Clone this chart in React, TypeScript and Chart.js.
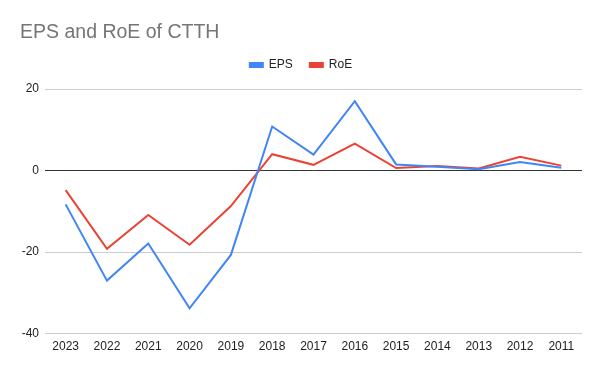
import React, { useEffect, useRef } from "react";
import { Chart, registerables } from "chart.js";

Chart.register(...registerables);

const years = ["2023","2022","2021","2020","2019","2018","2017","2016","2015","2014","2013","2012","2011"];
const epsValues = [-8.3, -27.0, -17.9, -33.8, -20.7, 10.8, 3.9, 17.0, 1.5, 0.9, 0.3, 2.1, 0.7];
const roeValues = [-4.8, -19.2, -10.9, -18.2, -8.7, 4.0, 1.4, 6.6, 0.6, 1.1, 0.5, 3.4, 1.2];
const yTicks = [-40, -20, 0, 20];

const FONT = "'Liberation Sans', Arial, sans-serif";

const legendSpacer = {
  id: "legendSpacer",
  beforeInit(chart: any) {
    const legend = chart.legend;
    if (!legend) return;
    const orig = legend.fit;
    legend.fit = function () {
      orig.call(this);
      this.height += 8;
    };
  },
};

export default function App() {
  const ref = useRef<HTMLCanvasElement | null>(null);
  useEffect(() => {
    document.body.style.margin = "0";
    const ctx = ref.current!;
    const chart = new Chart(ctx, {
      type: "line",
      data: {
        labels: years,
        datasets: [
          { label: "EPS", data: epsValues, borderColor: "#4285F4", backgroundColor: "#4285F4", borderWidth: 2, pointRadius: 0, tension: 0 },
          { label: "RoE", data: roeValues, borderColor: "#EA4335", backgroundColor: "#EA4335", borderWidth: 2, pointRadius: 0, tension: 0 },
        ],
      },
      options: {
        responsive: false,
        animation: false,
        layout: { padding: { top: 0, left: 20, right: 18, bottom: 11 } },
        plugins: {
          title: {
            display: true,
            text: "EPS and RoE of CTTH",
            align: "start",
            color: "#757575",
            font: { family: FONT, size: 19.5, weight: "normal", lineHeight: 1 },
            padding: { top: 22.5, bottom: 0 },
          },
          legend: {
            display: true,
            position: "top",
            labels: {
              boxWidth: 13,
              boxHeight: 4,
              padding: 17,
              color: "#222",
              font: { family: FONT, size: 12 },
            },
          },
          tooltip: { enabled: false },
        },
        scales: {
          x: {
            offset: true,
            grid: { display: false, drawTicks: false },
            border: { display: false },
            ticks: { color: "#222", font: { family: FONT, size: 12 }, padding: 6, maxRotation: 0, autoSkip: false },
          },
          y: {
            min: yTicks[0],
            max: yTicks[yTicks.length - 1],
            afterBuildTicks(scale: any) {
              scale.ticks = yTicks.map((v) => ({ value: v }));
            },
            afterFit(scale: any) {
              scale.width = 25;
            },
            grid: {
              drawTicks: false,
              color: (c: any) => (c.tick && c.tick.value === 0 ? "#333" : "#ccc"),
              lineWidth: 1,
            },
            border: { display: false },
            ticks: { color: "#222", font: { family: FONT, size: 12 }, padding: 6 },
          },
        },
      },
      plugins: [legendSpacer],
    });
    return () => chart.destroy();
  }, []);
  return (
    <div style={{ width: 600, height: 371 }}>
      <canvas ref={ref} width={600} height={371} style={{ display: "block" }} />
    </div>
  );
}
